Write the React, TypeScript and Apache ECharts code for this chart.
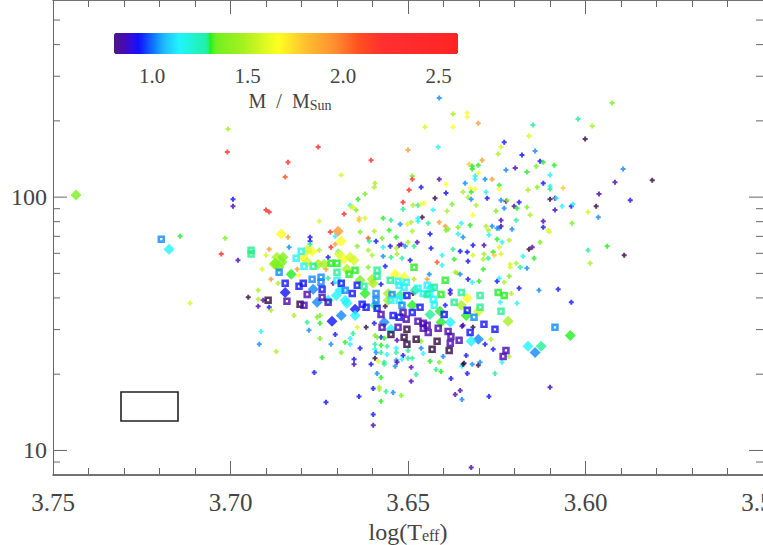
import React, { useEffect, useRef } from "react";
import * as echarts from "echarts";

// mass classes (solar masses)
const D = 0.75, V = 0.85, B = 0.93, A = 1.02, C = 1.14, T = 1.292, G = 1.305, N = 1.36, L = 1.48, E = 1.58, Y = 1.66, P = 1.78, O = 1.92, R = 2.08, X = 2.35;

// [log(Teff), log(L), mass]
const plusPoints = [
[3.6412,2.391,A],[3.5925,2.372,N],[3.6373,2.328,L],[3.6333,2.332,Y],[3.6333,2.316,Y],[3.6452,2.277,E],[3.6373,2.277,Y],[3.6302,2.292,O],[3.6148,2.285,T],[3.6021,2.308,T],[3.5981,2.281,L],[3.6001,2.229,D],[3.6159,2.241,E],[3.6229,2.217,B],[3.6238,2.198,E],[3.65,2.186,O],[3.6415,2.198,C],[3.6246,2.17,L],[3.6179,2.166,B],[3.6142,2.182,A],[3.6291,2.146,O],[3.6128,2.142,B],[3.6119,2.138,G],[3.6088,2.126,G],[3.6139,2.122,N],[3.6328,2.13,P],[3.6302,2.126,G],[3.6319,2.122,G],[3.6319,2.111,G],[3.6302,2.095,Y],[3.6224,2.107,A],[3.6198,2.115,V],[3.6165,2.099,G],[3.5894,2.111,A],[3.6488,2.083,N],[3.6488,2.071,X],[3.6412,2.071,V],[3.6311,2.083,C],[3.6311,2.071,C],[3.6283,2.071,A],[3.6263,2.071,O],[3.61,2.087,C],[3.5917,2.059,V],[3.5812,2.067,D],[3.6393,2.051,Y],[3.6339,2.055,A],[3.6243,2.047,G],[3.6243,2.032,Y],[3.6119,2.055,B],[3.6136,2.039,N],[3.61,2.043,C],[3.61,2.032,T],[3.6063,2.036,P],[3.6463,2.039,B],[3.6497,2.028,X],[3.6325,2.036,Y],[3.6311,2.032,Y],[3.6162,2.028,L],[3.6393,2.016,B],[3.6345,2.02,L],[3.6322,2.02,G],[3.628,2.02,C],[3.5962,2.012,V],[3.6424,1.996,D],[3.6331,2,L],[3.6322,1.992,A],[3.6277,1.996,B],[3.6238,1.988,A],[3.6224,1.984,V],[3.6221,1.988,N],[3.6187,1.98,B],[3.61,1.992,D],[3.6086,1.996,V],[3.6083,1.996,C],[3.5874,1.988,B],[3.6514,1.98,X],[3.6376,1.972,N],[3.6308,1.968,L],[3.6486,1.968,L],[3.6472,1.968,T],[3.6463,1.972,Y],[3.6455,1.976,Y],[3.6201,1.964,V],[3.6193,1.956,G],[3.6229,1.956,A],[3.6165,1.96,N],[3.6066,1.964,C],[3.604,1.964,B],[3.6035,1.972,C],[3.597,1.964,D],[3.6514,1.952,T],[3.6429,1.949,C],[3.639,1.945,L],[3.6252,1.945,N],[3.6086,1.949,V],[3.5993,1.941,E],[3.6317,1.929,Y],[3.6156,1.929,L],[3.646,1.921,D],[3.6472,1.917,C],[3.6472,1.905,C],[3.6238,1.909,V],[3.6195,1.909,T],[3.6119,1.905,V],[3.5964,1.921,A],[3.6491,1.901,L],[3.6502,1.893,E],[3.6412,1.901,O],[3.6443,1.897,T],[3.6395,1.885,O],[3.635,1.897,C],[3.6359,1.881,N],[3.6325,1.889,G],[3.628,1.885,L],[3.6263,1.885,A],[3.6249,1.877,A],[3.6243,1.877,A],[3.6238,1.885,V],[3.6207,1.873,A],[3.6119,1.881,B],[3.6038,1.897,N],[3.6522,1.893,A],[3.6105,1.869,E],[3.6102,1.862,E],[3.6274,1.869,L],[3.6393,1.869,N],[3.6387,1.873,N],[3.6488,1.865,L],[3.6438,1.854,B],[3.6359,1.854,C],[3.6345,1.842,A],[3.6272,1.85,C],[3.6249,1.834,G],[3.6215,1.83,L],[3.6235,1.822,C],[3.6128,1.822,N],[3.6519,1.814,V],[3.6474,1.822,V],[3.65,1.822,L],[3.6508,1.806,A],[3.6483,1.806,T],[3.6317,1.81,B],[3.6286,1.81,V],[3.6243,1.802,E],[3.5939,1.806,G],[3.615,1.802,V],[3.6159,1.794,D],[3.6435,1.798,B],[3.6373,1.794,T],[3.6353,1.786,B],[3.6333,1.783,B],[3.626,1.783,G],[3.6286,1.775,L],[3.6288,1.755,L],[3.6238,1.775,E],[3.6257,1.771,P],[3.6317,1.771,E],[3.6176,1.767,C],[3.6404,1.771,C],[3.5993,1.79,T],[3.5891,1.771,D],[3.6517,1.759,T],[3.6494,1.751,B],[3.637,1.755,G],[3.6274,1.759,T],[3.6145,1.759,G],[3.6331,1.747,B],[3.6418,1.743,R],[3.5987,1.739,L],[3.6404,1.731,C],[3.6212,1.735,E],[3.6212,1.723,E],[3.6195,1.739,L],[3.6184,1.723,T],[3.6165,1.719,A],[3.6288,1.715,G],
[3.7007,2.269,L],[3.7009,2.178,X],[3.6838,2.138,X],[3.6753,2.198,X],[3.6604,2.146,X],[3.6846,2.079,R],[3.6688,2.087,E],[3.6593,2.055,L],[3.6595,2.039,L],[3.6621,2.012,N],[3.6641,1.992,G],[3.6993,1.992,B],[3.6993,1.964,V],[3.69,1.949,X],[3.6891,1.941,X],[3.6663,1.968,C],[3.666,1.96,E],[3.6655,1.96,E],[3.6646,1.949,N],[3.668,1.933,X],[3.6638,1.917,P],[3.6638,1.909,P],[3.6621,1.917,E],[3.657,1.917,G],[3.6548,1.909,T],[3.675,1.905,E],[3.6719,1.862,X],[3.6705,1.846,C],[3.6838,1.842,O],[3.6776,1.842,B],[3.6776,1.826,B],[3.7015,1.838,N],[3.6635,1.862,N],[3.6595,1.865,L],[3.6553,1.869,G],[3.6533,1.842,G],[3.6612,1.838,R],[3.6609,1.826,T],[3.659,1.826,B],[3.6573,1.838,N],[3.6717,1.802,X],[3.6705,1.814,O],[3.6643,1.806,N],[3.6612,1.79,L],[3.6891,1.794,O],[3.6835,1.802,A],[3.6776,1.814,T],[3.7026,1.775,X],[3.6979,1.751,V],[3.69,1.771,E],[3.6725,1.763,B],[3.6697,1.786,C],[3.6601,1.771,L],[3.657,1.802,C],[3.655,1.806,B],[3.6533,1.798,L],[3.6525,1.81,V],[3.657,1.767,A],[3.6548,1.763,T],[3.6531,1.775,L],[3.6612,1.723,N],[3.6564,1.727,B],[3.6911,1.715,E],[3.6812,1.715,O],[3.6731,1.715,O],[3.6942,1.782,N],[3.7142,1.846,G],[3.695,1.605,D],[3.7114,1.581,E],
[3.6886,1.676,O],[3.6922,1.632,L],[3.6922,1.597,L],[3.6922,1.569,V],[3.6891,1.565,B],[3.6886,1.553,L],[3.6908,1.593,V],[3.6866,1.66,L],[3.6821,1.533,L],[3.6784,1.506,T],[3.6748,1.533,N],[3.6756,1.526,N],[3.6748,1.502,G],[3.6725,1.68,T],[3.6711,1.66,V],[3.675,1.79,L],[3.6807,1.692,Y],[3.6914,1.47,C],[3.6919,1.419,A],[3.6871,1.391,L],[3.6779,1.474,A],[3.6748,1.442,N],[3.6717,1.419,A],[3.6688,1.387,N],[3.6742,1.367,G],[3.6764,1.308,B],[3.6705,1.458,B],[3.6643,1.486,E],[3.6618,1.486,D],[3.6595,1.502,B],[3.6655,1.462,T],[3.6663,1.442,C],[3.6677,1.427,G],[3.6663,1.419,C],[3.6635,1.403,B],[3.6652,1.36,B],[3.6652,1.34,V],[3.6604,1.34,B],[3.6576,1.447,B],[3.6593,1.454,N],[3.6587,1.447,N],[3.6567,1.443,G],[3.6593,1.419,T],[3.6576,1.415,G],[3.6559,1.411,T],[3.6593,1.399,C],[3.6576,1.387,T],[3.659,1.387,A],[3.6559,1.379,C],[3.6533,1.403,C],[3.6533,1.387,T],[3.6531,1.435,V],[3.6514,1.375,B],[3.65,1.395,T],[3.65,1.364,T],[3.6488,1.364,T],[3.6517,1.36,C],[3.6533,1.356,A],[3.6531,1.348,V],[3.6593,1.364,D],[3.6584,1.352,E],[3.6567,1.348,T],[3.6567,1.34,T],[3.6536,1.332,A],[3.6491,1.328,V],[3.6587,1.304,A],[3.6576,1.288,G],[3.6477,1.3,T],[3.6491,1.273,V],[3.6598,1.245,B],[3.6581,1.249,L],[3.6581,1.241,L],[3.6562,1.233,T],[3.6542,1.229,A],[3.6519,1.217,N],[3.6638,1.213,B],[3.6576,1.194,G],[3.6598,1.142,B],[3.6598,1.099,V],[3.6438,1.352,G],[3.6412,1.348,N],[3.6421,1.32,T],[3.6407,1.312,G],[3.6342,1.344,D],[3.6348,1.332,C],[3.6336,1.375,B],[3.6333,1.304,B],[3.6345,1.494,V],[3.6379,1.284,B],[3.6353,1.237,V],[3.6367,1.221,V],[3.6348,1.201,A],[3.6401,1.371,A],[3.6322,0.933,V],[3.644,1.696,A],[3.6483,1.676,L],[3.6367,1.703,L],[3.6362,1.7,L],[3.6353,1.696,A],[3.6331,1.676,B],[3.6319,1.664,C],[3.63,1.668,G],[3.6249,1.668,B],[3.6229,1.664,L],[3.6243,1.68,C],[3.6215,1.688,N],[3.6187,1.64,B],[3.6209,1.62,L],[3.6131,1.632,A],[3.6077,1.636,B],[3.624,1.585,C],[3.6193,1.581,C],[3.604,1.585,B],[3.6395,1.573,B],[3.6381,1.62,V],[3.6381,1.632,B],[3.6348,1.49,V],[3.6317,1.486,D],[3.6266,1.439,L],[3.6283,1.419,B],[3.626,1.399,B],[3.6319,1.34,A],[3.6302,1.336,D],[3.6297,1.348,A],[3.6235,1.348,C],[3.6345,1.34,D],[3.6255,1.304,T],[3.6463,1.403,A],[3.6457,1.383,C],[3.6463,1.431,N],[3.6215,1.371,L],[3.6576,1.656,B],[3.6564,1.569,D],[3.6486,1.62,D],[3.6446,1.676,O],[3.6731,1.19,B],[3.61,1.249,V],[3.6272,1.213,B],
];

const diamondPoints = [
[3.7435,2.008,N],[3.7173,1.794,C],[3.6697,1.865,O],[3.6857,1.854,Y],[3.6688,1.826,Y],[3.6795,1.763,Y],[3.677,1.786,Y],[3.6784,1.79,E],[3.6784,1.743,E],[3.6869,1.763,L],[3.6852,1.763,N],[3.6855,1.743,N],[3.6877,1.735,L],[3.6869,1.731,L],[3.6874,1.739,N],[3.6863,1.723,N],[3.6829,1.696,G],[3.6846,1.624,B],[3.6753,1.735,L],[3.6736,1.735,L],[3.6694,1.775,E],[3.668,1.755,Y],[3.6663,1.763,E],[3.6652,1.751,E],[3.6672,1.715,L],[3.6756,1.585,A],[3.6714,1.51,B],[3.6688,1.533,A],[3.6702,1.612,C],[3.6767,1.636,A],[3.6725,1.593,C],[3.6677,1.593,C],[3.6672,1.581,C],[3.6649,1.557,B],[3.6649,1.533,C],[3.6635,1.672,N],[3.6621,1.62,G],[3.6601,1.676,L],[3.6598,1.66,L],[3.6536,1.696,Y],[3.6511,1.684,Y],[3.6556,1.62,L],[3.6556,1.593,L],[3.6488,1.573,G],[3.6438,1.537,T],[3.6567,1.506,A],[3.6548,1.478,C],[3.6381,1.506,C],[3.6407,1.506,G],[3.641,1.549,G],[3.635,1.573,L],[3.6333,1.601,Y],[3.6336,1.533,G],[3.6302,1.549,E],[3.6218,1.51,L],[3.6302,1.439,A],[3.6322,1.431,C],[3.6162,1.411,C],[3.6125,1.411,T],[3.6142,1.387,A],[3.6043,1.454,G],[3.6691,1.632,C],[3.6522,1.612,T],[3.6593,1.573,T],[3.648,1.632,T],
];

const squarePoints = [
[3.7195,1.834,A],[3.6942,1.79,T],[3.6942,1.775,T],[3.6801,1.786,C],[3.6815,1.759,C],[3.6793,1.727,C],[3.6767,1.727,T],[3.6863,1.703,A],[3.6846,1.66,B],[3.6807,1.648,B],[3.6795,1.66,B],[3.6784,1.616,V],[3.677,1.676,A],[3.6745,1.684,A],[3.6745,1.664,A],[3.6742,1.636,B],[3.6742,1.605,V],[3.6725,1.585,V],[3.6841,1.589,V],[3.6804,1.577,D],[3.6793,1.573,V],[3.6894,1.593,D],[3.6717,1.739,G],[3.67,1.739,G],[3.67,1.703,T],[3.67,1.672,C],[3.6688,1.66,B],[3.6677,1.632,A],[3.6666,1.696,G],[3.6649,1.711,G],[3.6657,1.62,B],[3.6643,1.652,B],[3.6624,1.648,T],[3.6587,1.711,T],[3.6587,1.688,T],[3.659,1.62,A],[3.659,1.593,A],[3.6587,1.561,B],[3.6576,1.537,V],[3.6629,1.577,B],[3.6618,1.565,B],[3.655,1.672,T],[3.6528,1.668,C],[3.6525,1.652,C],[3.6505,1.664,C],[3.6511,1.644,C],[3.6472,1.64,C],[3.6446,1.652,C],[3.6435,1.64,C],[3.6426,1.644,T],[3.6457,1.62,C],[3.644,1.62,C],[3.6446,1.616,T],[3.6429,1.597,C],[3.6426,1.573,C],[3.6407,1.616,G],[3.6545,1.616,A],[3.6548,1.593,C],[3.6525,1.593,C],[3.6503,1.612,B],[3.6517,1.573,A],[3.6466,1.565,B],[3.6398,1.537,B],[3.6542,1.533,B],[3.6525,1.526,B],[3.6514,1.545,V],[3.6505,1.518,V],[3.6488,1.545,B],[3.6472,1.51,V],[3.6457,1.502,V],[3.6457,1.482,V],[3.6446,1.494,V],[3.6443,1.466,V],[3.6415,1.482,V],[3.6573,1.486,V],[3.6528,1.486,V],[3.6503,1.478,D],[3.6548,1.458,D],[3.6511,1.447,D],[3.6477,1.439,D],[3.6503,1.419,D],[3.6418,1.431,D],[3.6432,1.399,D],[3.6387,1.47,V],[3.6379,1.45,V],[3.6356,1.435,V],[3.6381,1.423,V],[3.6384,1.395,D],[3.6395,1.672,G],[3.6483,1.723,G],[3.635,1.624,T],[3.6297,1.612,T],[3.6246,1.624,G],[3.6229,1.612,G],[3.637,1.585,T],[3.6297,1.565,T],[3.6238,1.549,T],[3.6333,1.553,B],[3.6314,1.526,A],[3.6286,1.498,B],[3.6255,1.478,B],[3.6325,1.466,B],[3.6224,1.395,V],[3.6232,1.371,V],[3.6086,1.486,A],
];

const yMajorTicks = [10, 100];
const yMinorTicks = [9, 20, 30, 40, 50, 60, 70, 80, 90, 200, 300, 400, 500];
const colorbarTicks = [1.0, 1.5, 2.0, 2.5];
const colorStops: [number, string][] = [
  [0.8, "#4c1a8c"], [0.85, "#4a08b0"], [0.9, "#2a10e8"], [0.93, "#1010ff"], [1.02, "#1088ff"], [1.06, "#20b8ff"], [1.14, "#20f4ff"],
  [1.292, "#20f0a0"], [1.305, "#20f020"], [1.33, "#70f020"], [1.48, "#a8f020"], [1.66, "#ffff20"], [1.8, "#ffc030"],
  [1.95, "#ff9030"], [2.08, "#ff5020"], [2.2, "#ff3030"], [2.6, "#ff2424"],
];

const PLUS = "path://M1.5 0h2v1.5H5v2H3.5V5h-2V3.5H0v-2h1.5z";
const HOLLOW = "path://M0 0h8v8H0zM2.8 2.8v2.4h2.4v-2.4z";
const INK = "#444";
const SERIF = "'Liberation Serif', serif";

function colourRamp(): string[] {
  const out: string[] = [];
  for (let i = 0; i <= 360; i++) {
    const m = 0.8 + i * 0.005;
    let k = 0;
    while (k < colorStops.length - 2 && m > colorStops[k + 1][0]) k++;
    const [a, ca] = colorStops[k];
    const [b, cb] = colorStops[k + 1];
    out.push(echarts.color.lerp(Math.min(1, Math.max(0, (m - a) / (b - a))), [ca, cb]) as string);
  }
  return out;
}

const toValues = (pts: number[][]) => pts.map(([t, l, m]) => [t, Math.pow(10, l), m]);

export default function App() {
  const ref = useRef<HTMLDivElement>(null);
  useEffect(() => {
    const chart = echarts.init(ref.current!, undefined, { renderer: "svg" });
    const xBase = {
      type: "value", min: 3.55, max: 3.75, interval: 0.05, inverse: true,
      axisLine: { show: true, lineStyle: { color: INK, width: 1.5 } },
      axisTick: { show: true, inside: true, length: 14, lineStyle: { color: "#666", width: 1 } },
      minorTick: { show: true, splitNumber: 5, length: 7, lineStyle: { color: "#666", width: 1 } },
      splitLine: { show: false },
    };
    chart.setOption({
      animation: false,
      backgroundColor: "#fff",
      grid: { left: 53, top: 0, width: 710, height: 475, containLabel: false, outerBoundsMode: "none" },
      xAxis: [
        {
          ...xBase, position: "bottom",
          axisLabel: { show: true, margin: 15, fontFamily: SERIF, fontSize: 25, color: INK, formatter: (v: number) => v.toFixed(2), hideOverlap: false },
          name: "{a|log(T}{b|eff}{a|)}",
          nameLocation: "middle", nameGap: 44,
          nameTextStyle: { rich: { a: { fontFamily: SERIF, fontSize: 24, color: INK }, b: { fontFamily: SERIF, fontSize: 16, color: INK, padding: [8, 0, 0, 0] } } },
        },
        { ...xBase, position: "top", axisLabel: { show: false } },
      ],
      yAxis: {
        type: "log", logBase: 10, min: 8, max: 600, position: "left",
        axisLine: { show: true, lineStyle: { color: "#666", width: 1 } },
        axisTick: { show: false }, minorTick: { show: false }, splitLine: { show: false },
        axisLabel: { customValues: yMajorTicks, margin: 6, fontFamily: SERIF, fontSize: 24, color: INK, formatter: (v: number) => String(Math.round(v)) },
      },
      visualMap: {
        type: "continuous", seriesIndex: [0, 1, 2], dimension: 2, min: 0.8, max: 2.6, range: [0.801, 2.6],
        orient: "horizontal", left: 114, top: 33, itemWidth: 21, itemHeight: 344, padding: 0,
        calculable: false, hoverLink: false, showLabel: false, text: null,
        inRange: { color: colourRamp() }, outOfRange: { color: "#300840" },
      },
      series: [
        { type: "scatter", symbol: PLUS, symbolSize: 5, data: toValues(plusPoints), silent: true, z: 2 },
        { type: "scatter", symbol: "diamond", symbolSize: 11, data: toValues(diamondPoints), silent: true, z: 3 },
        { type: "scatter", symbol: HOLLOW, symbolSize: 7.5, data: toValues(squarePoints), silent: true, z: 4 },
        {
          type: "custom", silent: true, z: 1,
          data: [...yMajorTicks, ...yMinorTicks].map((v) => [3.75, v]),
          encode: { x: 0, y: 1 },
          clip: false,
          renderItem: (params: any, api: any) => {
            const v = api.value(1);
            const y = api.coord([3.75, v])[1];
            const len = yMajorTicks.includes(v) ? 14 : 7;
            const x0 = params.coordSys.x;
            const x1 = x0 + params.coordSys.width;
            const style = { stroke: "#666", lineWidth: 1, fill: "none" };
            return {
              type: "group",
              children: [
                { type: "line", shape: { x1: x0, y1: y, x2: x0 + len, y2: y }, style },
                { type: "line", shape: { x1: x1 - len, y1: y, x2: x1, y2: y }, style },
              ],
            };
          },
        },
      ],
      graphic: [
        ...colorbarTicks.map((m) => ({
          type: "text", x: 114 + (m - 0.8) * 191, y: 76,
          style: { text: m.toFixed(1), fontFamily: SERIF, fontSize: 21, fill: INK, align: "center", verticalAlign: "middle" },
        })),
        {
          type: "text", x: 290, y: 101,
          style: {
            text: "{a|M  /  M}{b|Sun}", align: "center", verticalAlign: "middle",
            rich: {
              a: { fontFamily: SERIF, fontSize: 20, fill: INK, color: INK },
              b: { fontFamily: SERIF, fontSize: 14, fill: INK, color: INK, padding: [8, 0, 0, 0] },
            },
          },
        },
        { type: "rect", shape: { x: 121, y: 392, width: 57, height: 29 }, style: { fill: "none", stroke: "#222", lineWidth: 1.6 } },
      ],
    });
    return () => chart.dispose();
  }, []);
  return <div ref={ref} style={{ position: "fixed", left: 0, top: 0, width: 763, height: 545, overflow: "hidden" }} />;
}
